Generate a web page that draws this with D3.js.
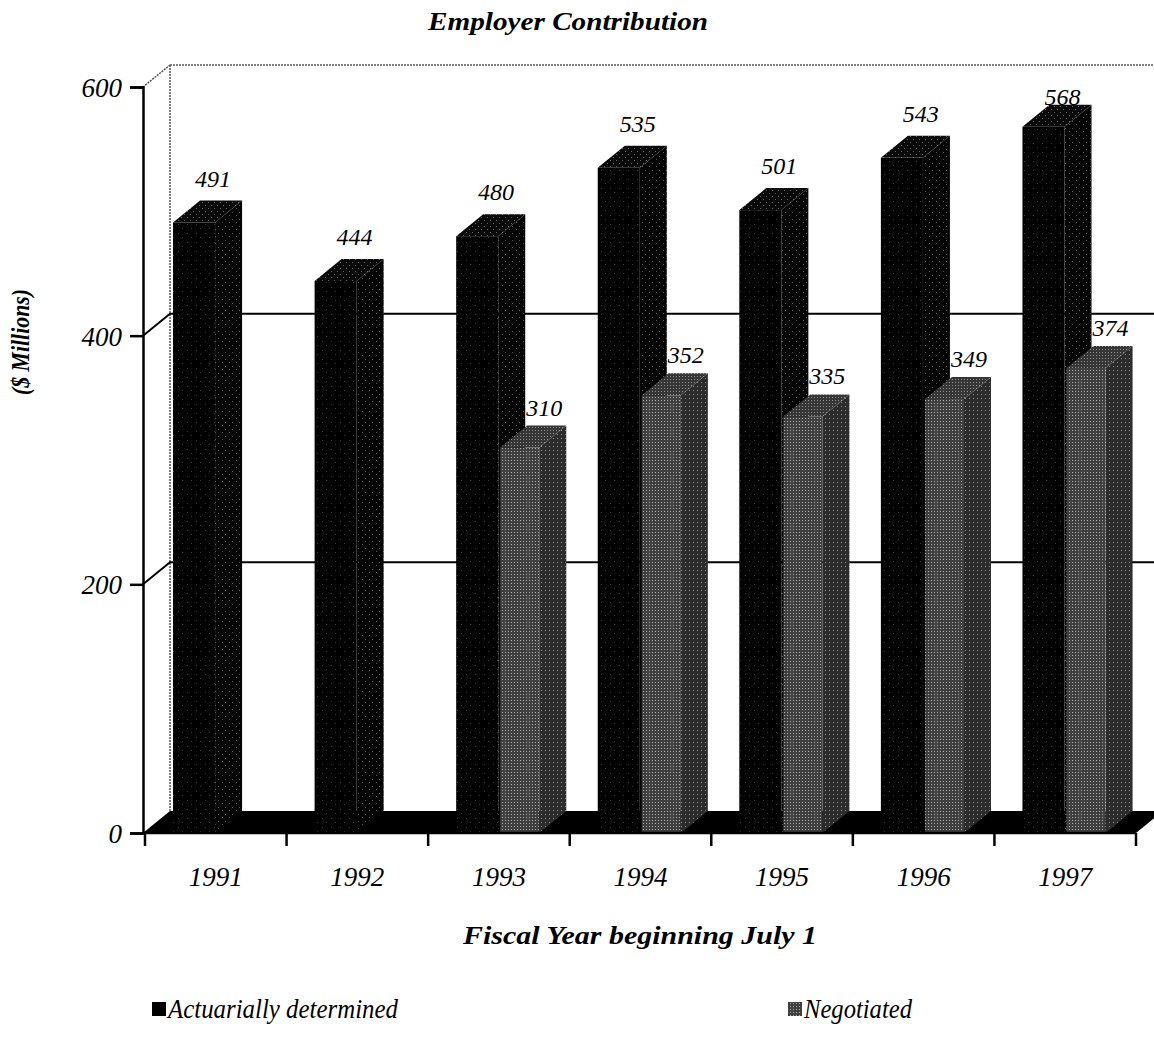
<!DOCTYPE html>
<html>
<head>
<meta charset="utf-8">
<script src="https://cdn.jsdelivr.net/npm/d3@7"></script>
<style>
  html, body { margin: 0; padding: 0; background: #fff; }
  svg { display: block; }
</style>
</head>
<body>
<svg id="chart" width="1154" height="1038"></svg>
<script>
// Employer contribution, $ millions, by fiscal year (beginning July 1)
const years = ["1991", "1992", "1993", "1994", "1995", "1996", "1997"];
const actuarial = [491, 444, 480, 535, 501, 543, 568];
const negotiated = [null, null, 310, 352, 335, 349, 374];
const yTicks = [0, 200, 400, 600];
const seriesNames = ["Actuarially determined", "Negotiated"];

const FONT = "'Liberation Serif', 'Times New Roman', Times, serif";
const svg = d3.select("#chart")
  .attr("font-family", FONT).attr("font-style", "italic");
const W = 1154;

// plot frame
const x = d3.scaleBand().domain(years).range([145, 1136]).paddingInner(0).paddingOuter(0);
const y = d3.scaleLinear().domain([0, 600]).range([833, 87]);
const bw = x.bandwidth();
const DX = 27, DY = 22;          // depth offset of the 3-D box
const axisX = 143;

// textures
const defs = svg.append("defs");
function dots(id, size, base, dotColor, pts) {
  const p = defs.append("pattern").attr("id", id).attr("patternUnits", "userSpaceOnUse")
    .attr("width", size).attr("height", size);
  p.append("rect").attr("width", size).attr("height", size).attr("fill", base);
  pts.forEach(([px, py]) => p.append("rect").attr("x", px).attr("y", py)
    .attr("width", 1).attr("height", 1).attr("fill", dotColor));
}
dots("blkFront", 9, "#000", "#3a3a3a", [[2, 3], [7, 8]]);
dots("blkSide", 7, "#040404", "#555", [[1, 2], [5, 5]]);
dots("blkTop", 6, "#0a0a0a", "#666", [[1, 1], [4, 4]]);
dots("gryFront", 3, "#404040", "#a8a8a8", [[1, 1]]);
dots("grySide", 4, "#2c2c2c", "#8a8a8a", [[1, 2]]);
dots("gryTop", 3, "#363636", "#909090", [[1, 1]]);

// back wall: left edge, top edge and connecting edge
const wall = svg.append("g").attr("stroke", "#555").attr("stroke-width", 1.5).attr("stroke-dasharray", "2,1");
wall.append("line").attr("x1", axisX + DX).attr("x2", axisX + DX)
  .attr("y1", y(600) - DY).attr("y2", y(0) - DY);
wall.append("line").attr("x1", axisX + DX).attr("x2", W)
  .attr("y1", y(600) - DY).attr("y2", y(600) - DY);
wall.append("line").attr("x1", axisX).attr("x2", axisX + DX)
  .attr("y1", y(600)).attr("y2", y(600) - DY);

// gridlines on side and back walls
const grid = svg.append("g");
[200, 400].forEach(v => {
  grid.append("polyline")
    .attr("points", [[axisX, y(v)], [axisX + DX, y(v) - DY], [W, y(v) - DY]].map(p => p.join(",")).join(" "))
    .attr("fill", "none").attr("stroke", "#000").attr("stroke-width", 2);
});

// floor slab
svg.append("polygon")
  .attr("points", [[axisX, y(0)], [x.range()[1], y(0)], [x.range()[1] + DX, y(0) - DY], [axisX + DX, y(0) - DY]]
    .map(p => p.join(",")).join(" "))
  .attr("fill", "#000");

// 3-D column helper
function column(g, x0, w, v, fills) {
  const top = y(v), base = y(0);
  g.append("polygon").attr("fill", fills[1])   // right side
    .attr("points", [[x0 + w, base], [x0 + w + DX, base - DY], [x0 + w + DX, top - DY], [x0 + w, top]].map(p => p.join(",")).join(" "));
  g.append("polygon").attr("fill", fills[2])   // top
    .attr("points", [[x0, top], [x0 + DX, top - DY], [x0 + w + DX, top - DY], [x0 + w, top]].map(p => p.join(",")).join(" "));
  g.append("rect").attr("fill", fills[0])      // front
    .attr("x", x0).attr("y", top).attr("width", w).attr("height", base - top);
}

const blkOff = bw * 0.198, blkW = bw * 0.297;
const gryOff = bw * 0.509, gryW = bw * 0.276;

const bars = svg.append("g");
years.forEach((yr, i) => {
  column(bars, x(yr) + blkOff, blkW, actuarial[i], ["url(#blkFront)", "url(#blkSide)", "url(#blkTop)"]);
});
years.forEach((yr, i) => {
  if (negotiated[i] != null)
    column(bars, x(yr) + gryOff, gryW, negotiated[i], ["url(#gryFront)", "url(#grySide)", "url(#gryTop)"]);
});

// value labels
const labels = svg.append("g").attr("font-size", 24);
years.forEach((yr, i) => {
  labels.append("text").attr("x", x(yr) + bw * 0.48).attr("text-anchor", "middle")
    .attr("y", Math.max(y(actuarial[i]) - DY - 14, 105)).text(actuarial[i]);
  if (negotiated[i] != null)
    labels.append("text").attr("x", x(yr) + bw * 0.82).attr("text-anchor", "middle")
      .attr("y", y(negotiated[i]) - DY - 10).text(negotiated[i]);
});

// y axis
const yAxis = svg.append("g").attr("transform", `translate(${axisX},0)`)
  .call(d3.axisLeft(y).tickValues(yTicks).tickSize(13).tickPadding(8).tickFormat(d3.format("d")));
yAxis.attr("font-family", FONT).attr("font-size", 27);
yAxis.select(".domain").attr("stroke", "#000").attr("stroke-width", 2.5);
yAxis.selectAll(".tick line").attr("stroke", "#000").attr("stroke-width", 2.5);
yAxis.selectAll(".tick text").attr("dy", "0.35em");

// x axis: line, boundary ticks, centred year labels
const xg = svg.append("g");
xg.append("line").attr("x1", axisX).attr("x2", x.range()[1]).attr("y1", y(0)).attr("y2", y(0))
  .attr("stroke", "#000").attr("stroke-width", 2.5);
const bounds = years.map(d => x(d)).concat([x.range()[1]]);
xg.selectAll(".xt").data(bounds).join("line").attr("class", "xt")
  .attr("x1", d => d).attr("x2", d => d).attr("y1", y(0)).attr("y2", y(0) + 13)
  .attr("stroke", "#000").attr("stroke-width", 2.5);
xg.selectAll(".xl").data(years).join("text").attr("class", "xl")
  .attr("x", d => x(d) + bw / 2).attr("y", 886).attr("text-anchor", "middle")
  .attr("font-size", 27).text(d => d);

// titles
svg.append("text").attr("x", 568).attr("y", 30).attr("text-anchor", "middle")
  .attr("font-size", 25).attr("font-weight", "bold")
  .attr("textLength", 280).attr("lengthAdjust", "spacingAndGlyphs").text("Employer Contribution");
svg.append("text").attr("x", 640).attr("y", 944).attr("text-anchor", "middle")
  .attr("font-size", 26).attr("font-weight", "bold")
  .attr("textLength", 354).attr("lengthAdjust", "spacingAndGlyphs").text("Fiscal Year beginning July 1");
svg.append("text").attr("transform", "translate(29,342) rotate(-90)").attr("text-anchor", "middle")
  .attr("font-size", 25).attr("font-weight", "bold")
  .attr("textLength", 106).attr("lengthAdjust", "spacingAndGlyphs").text("($ Millions)");

// legend
const legend = svg.append("g");
const legendX = [152, 788];
const legendLen = [230, 108];
const legendFill = ["#000", "url(#gryFront)"];
seriesNames.forEach((name, i) => {
  legend.append("rect").attr("x", legendX[i]).attr("y", 1002).attr("width", 14).attr("height", 14)
    .attr("fill", legendFill[i]);
  legend.append("text").attr("x", legendX[i] + 16).attr("y", 1018).attr("font-size", 27)
    .attr("textLength", legendLen[i]).attr("lengthAdjust", "spacingAndGlyphs").text(name);
});
</script>
</body>
</html>
